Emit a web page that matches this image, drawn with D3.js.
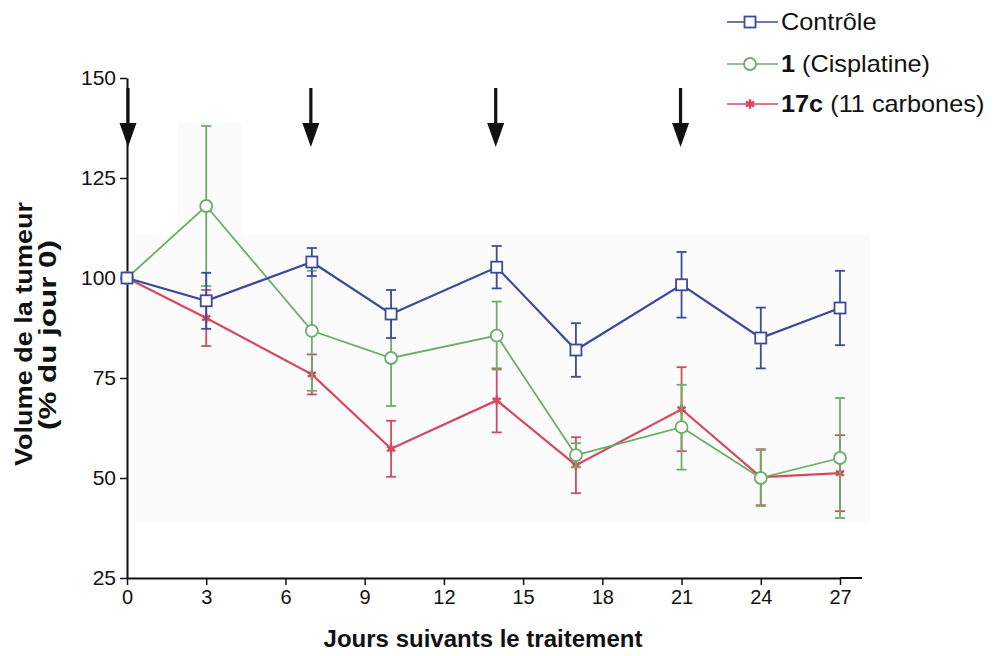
<!DOCTYPE html>
<html>
<head>
<meta charset="utf-8">
<script src="https://cdn.jsdelivr.net/npm/d3@7"></script>
<style>
  body { margin: 0; background: #fff; }
  text { font-family: Arial, "Liberation Sans", sans-serif; }
</style>
</head>
<body>
<div id="chart"></div>
<script>
// data
const days = [0, 3, 7, 10, 14, 17, 21, 24, 27];
const controle = [100, 94.3, 104, 91, 102.7, 82, 98.3, 85, 92.5];
const controleErr = [0, 7, 3.5, 6, 5.3, 6.7, 8.2, 7.6, 9.3];
const cisplatine = [100, 118, 86.8, 80, 85.6, 55.7, 62.7, 50, 55];
const cisplatineErr = [0, 20, 15, 12, 8.5, 3, 10.6, 7, 15];
const c17 = [100, 90, 75.9, 57.3, 69.4, 53.2, 67.2, 50.2, 51.2];
const c17Err = [0, 7, 5, 7, 8, 7, 10.5, 7, 9.5];
const treatmentDays = [0, 7, 14, 21];
const xTicks = [0, 3, 6, 9, 12, 15, 18, 21, 24, 27];
const yTicks = [25, 50, 75, 100, 125, 150];

const W = 994, H = 656;
const margin = {top: 78, right: 132, bottom: 78, left: 127};

const svg = d3.select('#chart').append('svg')
  .attr('width', W)
  .attr('height', H);

const x = d3.scaleLinear().domain([0, 27]).range([margin.left, 840]);
const y = d3.scaleLinear().domain([25, 150]).range([H - margin.bottom, margin.top]);

// faint grey patch of the scanned original
svg.append('rect')
  .attr('x', 136).attr('y', 234)
  .attr('width', 870 - 136).attr('height', 522 - 234)
  .attr('fill', '#fbfbfb');
svg.append('rect')
  .attr('x', 178).attr('y', 122)
  .attr('width', 242 - 178).attr('height', 234 - 122)
  .attr('fill', '#fbfbfb');

// axes
const yAxis = svg.append('g')
  .attr('transform', `translate(${margin.left},0)`)
  .call(d3.axisLeft(y).tickValues(yTicks).tickSize(7).tickPadding(4).tickSizeOuter(0));
const xAxis = svg.append('g')
  .attr('transform', `translate(0,${H - margin.bottom})`)
  .call(d3.axisBottom(x).tickValues(xTicks).tickSize(7).tickPadding(5).tickSizeOuter(0));

[xAxis, yAxis].forEach(g => {
  g.select('.domain').attr('stroke', '#111').attr('stroke-width', 2);
  g.selectAll('.tick line').attr('stroke', '#111').attr('stroke-width', 1.5);
  g.selectAll('.tick text').attr('fill', '#111')
    .style('font-family', 'Arial, "Liberation Sans", sans-serif');
});
xAxis.selectAll('.tick text').style('font-size', '20px');
yAxis.selectAll('.tick text').style('font-size', '21px');
// x axis goes a bit past the last tick
xAxis.append('line')
  .attr('x1', x(27)).attr('x2', 862)
  .attr('stroke', '#111').attr('stroke-width', 2);

// axis titles
svg.append('text')
  .attr('x', 483).attr('y', 647)
  .attr('text-anchor', 'middle')
  .style('font-size', '24px').style('font-weight', 'bold')
  .attr('fill', '#111')
  .text('Jours suivants le traitement');

const yTitle = svg.append('g')
  .attr('transform', 'translate(32,334) rotate(-90)');
yTitle.append('text')
  .attr('x', -132).attr('y', 0)
  .attr('textLength', 264).attr('lengthAdjust', 'spacingAndGlyphs')
  .style('font-size', '23px').style('font-weight', 'bold')
  .attr('fill', '#111')
  .text('Volume de la tumeur');
yTitle.append('text')
  .attr('x', -96).attr('y', 24)
  .attr('textLength', 190).attr('lengthAdjust', 'spacingAndGlyphs')
  .style('font-size', '23px').style('font-weight', 'bold')
  .attr('fill', '#111')
  .text('(% du jour 0)');

// series
const series = [
  {name: 'controle', vals: controle, err: controleErr, color: '#3d4a9c', width: 2.2, marker: 'square'},
  {name: 'cis', vals: cisplatine, err: cisplatineErr, color: '#6aae6a', width: 1.8, marker: 'circle'},
  {name: 'c17', vals: c17, err: c17Err, color: '#d5495c', width: 2.2, marker: 'star'}
];

const line = d3.line().x(d => x(d[0])).y(d => y(d[1]));

// draw in order: red, green, blue so blue is on top
[series[2], series[1], series[0]].forEach(s => {
  const g = svg.append('g');
  const pts = days.map((d, i) => [d, s.vals[i], s.err[i]]);

  // error bars
  pts.filter(p => p[2] > 0).forEach(p => {
    g.append('line')
      .attr('x1', x(p[0])).attr('x2', x(p[0]))
      .attr('y1', y(p[1] + p[2])).attr('y2', y(p[1] - p[2]))
      .attr('stroke', s.color).attr('stroke-width', 1.8);
    [p[1] + p[2], p[1] - p[2]].forEach(v => {
      g.append('line')
        .attr('x1', x(p[0]) - 5).attr('x2', x(p[0]) + 5)
        .attr('y1', y(v)).attr('y2', y(v))
        .attr('stroke', s.color).attr('stroke-width', 1.8);
    });
  });

  g.append('path')
    .datum(pts)
    .attr('d', line)
    .attr('fill', 'none')
    .attr('stroke', s.color)
    .attr('stroke-width', s.width);

  pts.forEach(p => drawMarker(g, s, x(p[0]), y(p[1])));
});

function drawMarker(g, s, cx, cy) {
  if (s.marker === 'square') {
    g.append('rect')
      .attr('x', cx - 5.5).attr('y', cy - 5.5)
      .attr('width', 11).attr('height', 11)
      .attr('fill', '#fff').attr('stroke', s.color).attr('stroke-width', 1.8);
  } else if (s.marker === 'circle') {
    g.append('circle')
      .attr('cx', cx).attr('cy', cy).attr('r', 6)
      .attr('fill', '#fff').attr('stroke', s.color).attr('stroke-width', 1.8);
  } else {
    g.append('path')
      .attr('transform', `translate(${cx},${cy})`)
      .attr('d', d3.symbol().type(d3.symbolAsterisk).size(60)())
      .attr('fill', s.color).attr('stroke', s.color).attr('stroke-width', 2.5);
  }
}

// treatment arrows
treatmentDays.forEach(d => {
  const ax = x(d) + (d === 0 ? 1 : -1);
  svg.append('line')
    .attr('x1', ax).attr('x2', ax)
    .attr('y1', 88).attr('y2', 128)
    .attr('stroke', '#111').attr('stroke-width', 3.2);
  svg.append('path')
    .attr('d', `M${ax - 8.5},123 L${ax + 8.5},123 L${ax},147 Z`)
    .attr('fill', '#111');
});

// legend
const legendItems = [
  {s: series[0], bold: '', rest: 'Contrôle', y: 22},
  {s: series[1], bold: '1', rest: ' (Cisplatine)', y: 64},
  {s: series[2], bold: '17c', rest: ' (11 carbones)', y: 104}
];
legendItems.forEach(it => {
  const g = svg.append('g');
  g.append('line')
    .attr('x1', 727).attr('x2', 778)
    .attr('y1', it.y).attr('y2', it.y)
    .attr('stroke', it.s.color).attr('stroke-width', 1.6);
  drawMarker(g, it.s, 750, it.y);
  const t = g.append('text')
    .attr('transform', `translate(781,${it.y + 8}) scale(1.1,1)`)
    .style('font-size', '23px')
    .attr('fill', '#111');
  if (it.bold) t.append('tspan').style('font-weight', 'bold').text(it.bold);
  t.append('tspan').text(it.rest);
});
</script>
</body>
</html>
